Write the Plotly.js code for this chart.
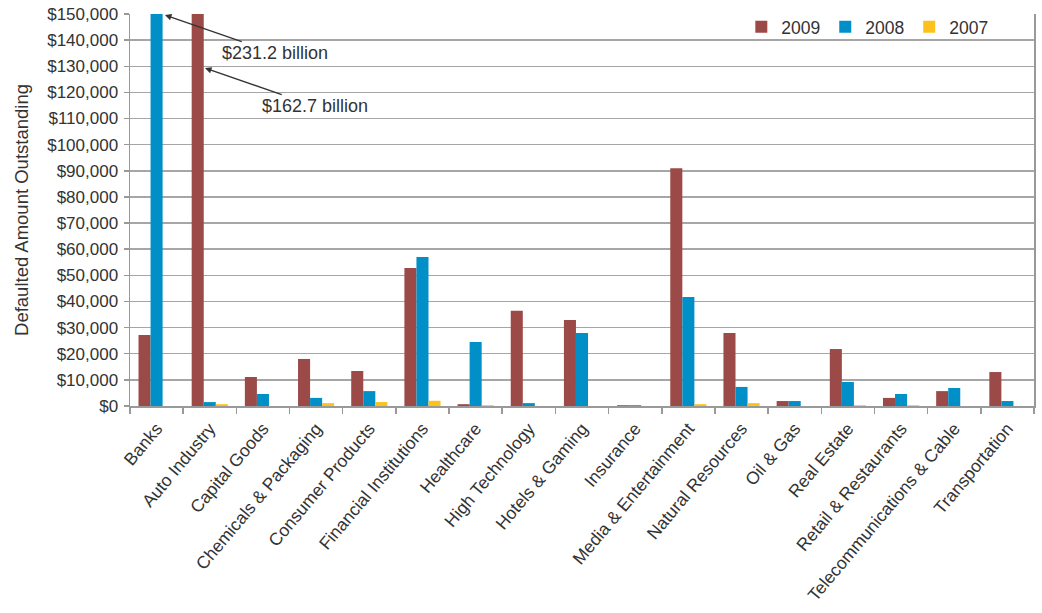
<!DOCTYPE html>
<html><head><meta charset="utf-8">
<script src="https://cdn.plot.ly/plotly-3.0.1.min.js"></script>
<style>html,body{margin:0;padding:0;background:#fff}#chart{width:1042px;height:613px}</style>
</head><body><div id="chart"></div>
<script>
const categories = ["Banks","Auto Industry","Capital Goods","Chemicals & Packaging","Consumer Products","Financial Institutions","Healthcare","High Technology","Hotels & Gaming","Insurance","Media & Entertainment","Natural Resources","Oil & Gas","Real Estate","Retail & Restaurants","Telecommunications & Cable","Transportation"];
const v2009 = [27200,162700,11100,18000,13400,52800,700,36400,32900,300,91000,27900,1900,21800,3100,5700,13000];
const v2008 = [231200,1500,4600,3100,5700,57000,24500,1100,27900,300,41700,7300,1900,9200,4600,6900,1900];
const v2007 = [0,700,0,1100,1500,2000,300,0,0,0,700,1100,0,300,300,0,0];
const yTicks = [0,10000,20000,30000,40000,50000,60000,70000,80000,90000,100000,110000,120000,130000,140000,150000];
const yTickText = yTicks.map(v => "$" + v.toLocaleString("en-US"));

const font = {family:"Liberation Sans, Arial, sans-serif", color:"#333333"};
const traces = [
  {name:"2009", y:v2009, color:"#9c4a48"},
  {name:"2008", y:v2008, color:"#008fc6"},
  {name:"2007", y:v2007, color:"#fcc21b"}
].map(s => ({type:"bar", name:s.name, x:categories, y:s.y, marker:{color:s.color}, hoverinfo:"x+y+name"}));

const layout = {
  width:1042, height:613,
  margin:{l:130, r:8, t:14, b:207},
  paper_bgcolor:"#fff", plot_bgcolor:"#fff",
  font:Object.assign({size:17}, font),
  barmode:"group", bargap:0.32, bargroupgap:0,
  showlegend:true,
  legend:{orientation:"h", x:0.955, xanchor:"right", y:1.013, yanchor:"top",
          font:Object.assign({size:17.5}, font), bgcolor:"rgba(255,255,255,0)", itemwidth:30, traceorder:"normal"},
  xaxis:{type:"category", tickangle:-50, tickfont:Object.assign({size:17.5}, font), ticklabelstandoff:4,
         showline:true, linecolor:"#999999", linewidth:1.5, ticks:"outside", tickson:"boundaries",
         ticklen:6, tickcolor:"#999999", tickwidth:1.5, showgrid:false, automargin:false},
  yaxis:{range:[0,150000], tickvals:yTicks, ticktext:yTickText, tickfont:Object.assign({size:17}, font), ticklabelstandoff:2,
         showline:true, linecolor:"#999999", linewidth:1.5, mirror:true, ticks:"outside", ticklen:5,
         tickcolor:"#999999", tickwidth:1.5, gridcolor:"#a6a6a6", gridwidth:1.5, zeroline:false,
         title:{text:"Defaulted Amount Outstanding", font:Object.assign({size:18.5}, font), standoff:13}, automargin:false},
  annotations:[
    {xref:"paper", yref:"y", x:(165-130)/904, y:149600, text:"$231.2 billion", showarrow:true,
     ax:110, ay:38, arrowhead:2, arrowsize:1, arrowwidth:1.3, arrowcolor:"#333", font:Object.assign({size:18}, font)},
    {xref:"paper", yref:"y", x:(205-130)/904, y:129300, text:"$162.7 billion", showarrow:true,
     ax:110, ay:38, arrowhead:2, arrowsize:1, arrowwidth:1.3, arrowcolor:"#333", font:Object.assign({size:18}, font)}
  ]
};
Plotly.newPlot("chart", traces, layout, {displayModeBar:false, staticPlot:true});
</script></body></html>
